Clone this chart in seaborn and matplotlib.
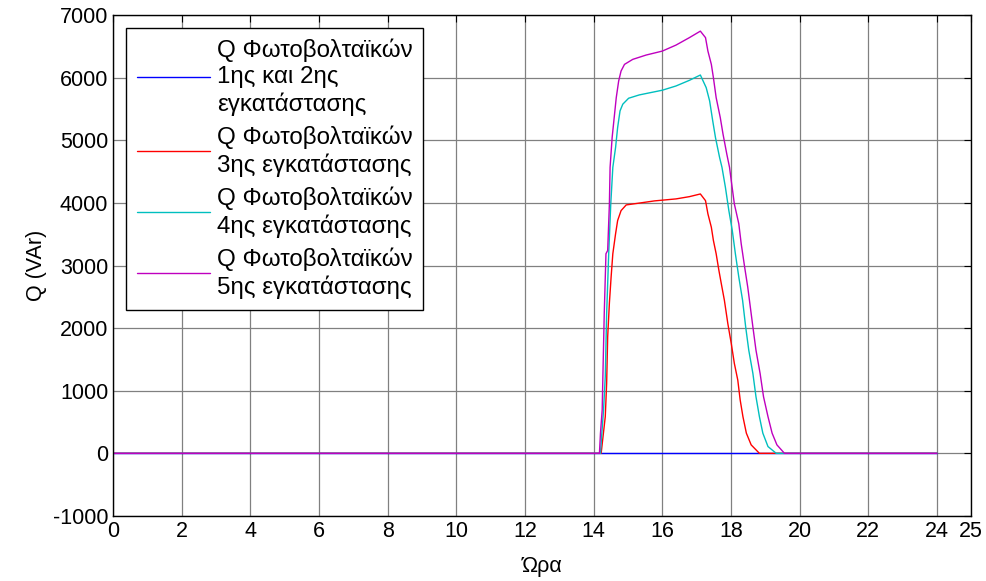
import matplotlib
matplotlib.use("Agg")
import matplotlib.pyplot as plt
import seaborn as sns
import pandas as pd

# hours / reactive power (VAr)
hours_12 = [0, 24]
q_12 = [0, 0]

hours_3 = [0, 14.22, 14.34, 14.38, 14.41, 14.46, 14.51, 14.56, 14.64, 14.70, 14.80, 14.95,
           15.29, 15.77, 16.40, 16.79, 17.11, 17.26, 17.33, 17.43, 17.49, 17.57, 17.65,
           17.72, 17.81, 17.91, 18.01, 18.10, 18.20, 18.27, 18.35, 18.45, 18.59, 18.83, 24]
q_3 = [0, 0, 586, 1118, 1860, 2400, 2815, 3188, 3506, 3718, 3877, 3968,
       3994, 4032, 4064, 4100, 4143, 4036, 3825, 3611, 3400, 3188, 2922,
       2710, 2444, 2073, 1755, 1436, 1170, 852, 586, 322, 135, 0, 0]

hours_4 = [0, 14.20, 14.24, 14.29, 14.34, 14.38, 14.44, 14.50, 14.56, 14.64, 14.70, 14.77,
           14.85, 15.02, 15.33, 16.00, 16.40, 16.79, 17.11, 17.28, 17.38, 17.47, 17.55,
           17.67, 17.74, 17.84, 17.94, 18.04, 18.13, 18.23, 18.34, 18.43, 18.52, 18.64,
           18.73, 18.83, 18.93, 19.08, 19.32, 24]
q_4 = [0, 0, 322, 693, 1223, 2232, 3188, 3984, 4567, 4885, 5204, 5470,
       5577, 5672, 5725, 5800, 5868, 5958, 6043, 5841, 5629, 5311, 5045,
       4726, 4567, 4248, 3877, 3559, 3188, 2815, 2444, 2019, 1648, 1277,
       904, 586, 322, 108, 0, 0]

hours_5 = [0, 14.17, 14.20, 14.25, 14.27, 14.31, 14.36, 14.41, 14.46, 14.48, 14.54, 14.61,
           14.66, 14.73, 14.80, 14.90, 15.14, 15.53, 16.00, 16.40, 16.79, 17.11, 17.26,
           17.33, 17.43, 17.49, 17.57, 17.69, 17.77, 17.88, 17.96, 18.01, 18.10, 18.23,
           18.30, 18.40, 18.49, 18.54, 18.64, 18.73, 18.85, 18.95, 19.08, 19.20, 19.34,
           19.56, 24]
q_5 = [0, 0, 322, 693, 1223, 2232, 3188, 3240, 3984, 4567, 5045, 5417,
       5682, 5947, 6107, 6213, 6293, 6362, 6425, 6521, 6640, 6744, 6640,
       6425, 6213, 6000, 5682, 5363, 5099, 4780, 4567, 4355, 3984, 3666,
       3347, 2975, 2656, 2444, 2019, 1648, 1277, 904, 586, 322, 135,
       0, 0]

labels = ["Q Φωτοβολταϊκών\n1ης και 2ης\nεγκατάστασης",
          "Q Φωτοβολταϊκών\n3ης εγκατάστασης",
          "Q Φωτοβολταϊκών\n4ης εγκατάστασης",
          "Q Φωτοβολταϊκών\n5ης εγκατάστασης"]
colors = ["#0000ff", "#ff0000", "#00bfbf", "#bf00bf"]

x_ticks = [0, 2, 4, 6, 8, 10, 12, 14, 16, 18, 20, 22, 24, 25]
y_ticks = [-1000, 0, 1000, 2000, 3000, 4000, 5000, 6000, 7000]

sns.set_style("white")
plt.rcParams['font.family'] = ['Liberation Sans', 'DejaVu Sans']
plt.rcParams['axes.unicode_minus'] = False
plt.rcParams['text.color'] = 'black'
plt.rcParams['axes.labelcolor'] = 'black'
plt.rcParams['xtick.color'] = 'black'
plt.rcParams['ytick.color'] = 'black'
fs = 15.5

fig = plt.figure(figsize=(9.87, 5.81), dpi=100)
ax = fig.add_axes([0.1145, 0.112, 0.8695, 0.862])

series = [(hours_12, q_12), (hours_3, q_3), (hours_4, q_4), (hours_5, q_5)]
for (h, q), lab, col in zip(series, labels, colors):
    df = pd.DataFrame({'Ώρα': h, 'Q': q})
    sns.lineplot(x='Ώρα', y='Q', data=df, ax=ax, color=col, linewidth=1.0,
                 label=lab, estimator=None, sort=False)

ax.set_xlim(0, 25)
ax.set_ylim(-1000, 7000)
ax.set_xticks(x_ticks)
ax.set_yticks(y_ticks)
ax.grid(True, color='#808080', linewidth=0.9)
ax.tick_params(direction='in', top=True, right=True, labelsize=fs, length=5,
               color='black', labelcolor='black')
for s in ax.spines.values():
    s.set_color('black')
    s.set_linewidth(1.0)
ax.set_xlabel('Ώρα', fontsize=fs, labelpad=10, color='black')
ax.set_ylabel('Q (VAr)', fontsize=fs, labelpad=4, color='black')

leg = ax.legend(loc='upper left', bbox_to_anchor=(0.0155, 0.975), borderaxespad=0,
                fontsize=17.4, frameon=True, fancybox=False, handlelength=3.0,
                handletextpad=0.3, labelspacing=0.38, borderpad=0.45)
leg.get_frame().set_edgecolor('black')
leg.get_frame().set_linewidth(1.0)
leg.get_frame().set_alpha(1)
for t in leg.get_texts():
    t.set_color('black')
    t.set_linespacing(1.25)

fig.savefig('out.png', dpi=100)
